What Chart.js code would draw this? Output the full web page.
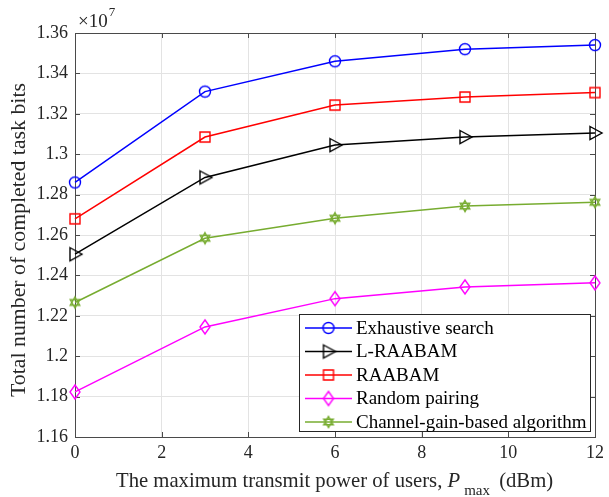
<!DOCTYPE html>
<html>
<head>
<meta charset="utf-8">
<script src="https://cdn.jsdelivr.net/npm/chart.js@4/dist/chart.umd.min.js"></script>
<style>
  html, body { margin: 0; padding: 0; background: #fff; }
  canvas { display: block; }
</style>
</head>
<body>
<canvas id="bitsChart" width="609" height="497"></canvas>
<script>
// transmit power (dBm) and completed task bits (x 10^7)
const powerLevels = [0, 3, 6, 9, 12];
const exhaustiveSearch = [1.286, 1.331, 1.346, 1.352, 1.354];
const lRaabam = [1.2505, 1.2885, 1.3045, 1.3085, 1.3105];
const raabam = [1.268, 1.3085, 1.3243, 1.3283, 1.3305];
const randomPairing = [1.1823, 1.2145, 1.2285, 1.2343, 1.2363];
const channelGain = [1.2266, 1.2584, 1.2683, 1.2743, 1.2762];

const seriesNames = ['Exhaustive search', 'L-RAABAM', 'RAABAM', 'Random pairing', 'Channel-gain-based algorithm'];
const seriesColors = ['#0000ff', '#000000', '#ff0000', '#ff00ff', '#77ac30'];
const yTicks = [1.16, 1.18, 1.2, 1.22, 1.24, 1.26, 1.28, 1.3, 1.32, 1.34, 1.36];

const FONT = '"Liberation Serif", "Times New Roman", serif';
const AXIS_COLOR = '#4a4a4a';

// open markers drawn onto small canvases so the legend can reuse them
function makeMarker(kind, color) {
  const c = document.createElement('canvas');
  c.width = 18; c.height = 18;
  const g = c.getContext('2d');
  const m = 9;
  g.strokeStyle = color;
  g.lineWidth = 1.4;
  g.beginPath();
  if (kind === 'circle') {
    g.arc(m, m, 5.5, 0, Math.PI * 2);
  } else if (kind === 'square') {
    g.rect(m - 5, m - 5, 10, 10);
  } else if (kind === 'triangle') {
    g.moveTo(m - 5, m - 6.5);
    g.lineTo(m + 7, m);
    g.lineTo(m - 5, m + 6.5);
    g.closePath();
  } else if (kind === 'diamond') {
    g.moveTo(m, m - 7);
    g.lineTo(m + 5, m);
    g.lineTo(m, m + 7);
    g.lineTo(m - 5, m);
    g.closePath();
  } else if (kind === 'hexagram') {
    const r = 5.5;
    for (let t = 0; t < 2; t++) {
      for (let k = 0; k < 3; k++) {
        const a = -Math.PI / 2 + t * Math.PI + k * 2 * Math.PI / 3;
        const px = m + r * Math.cos(a), py = m + r * Math.sin(a);
        if (k === 0) g.moveTo(px, py); else g.lineTo(px, py);
      }
      g.closePath();
    }
  }
  g.stroke();
  return c;
}

const markers = [
  makeMarker('circle', seriesColors[0]),
  makeMarker('triangle', seriesColors[1]),
  makeMarker('square', seriesColors[2]),
  makeMarker('diamond', seriesColors[3]),
  makeMarker('hexagram', seriesColors[4])
];

const seriesValues = [exhaustiveSearch, lRaabam, raabam, randomPairing, channelGain];

const datasets = seriesValues.map((vals, i) => ({
  label: seriesNames[i],
  data: powerLevels.map((p, j) => ({ x: p, y: vals[j] })),
  borderColor: seriesColors[i],
  borderWidth: 1.5,
  pointStyle: markers[i],
  pointRadius: 6,
  fill: false,
  clip: false,
  tension: 0
}));

// box, inward ticks, exponent label, legend and axis titles
const decorations = {
  id: 'decorations',
  beforeDatasetsDraw(chart) {
    const ctx = chart.ctx;
    const a = chart.chartArea;
    const xs = chart.scales.x, ys = chart.scales.y;
    ctx.save();
    ctx.strokeStyle = AXIS_COLOR;
    ctx.lineWidth = 1;
    for (let v = 0; v <= 12; v += 2) {
      const px = Math.round(xs.getPixelForValue(v)) + 0.5;
      ctx.beginPath();
      ctx.moveTo(px, a.bottom); ctx.lineTo(px, a.bottom - 5);
      ctx.moveTo(px, a.top); ctx.lineTo(px, a.top + 5);
      ctx.stroke();
    }
    yTicks.forEach(v => {
      const py = Math.round(ys.getPixelForValue(v)) + 0.5;
      ctx.beginPath();
      ctx.moveTo(a.left, py); ctx.lineTo(a.left + 5, py);
      ctx.moveTo(a.right, py); ctx.lineTo(a.right - 5, py);
      ctx.stroke();
    });
    ctx.strokeRect(Math.round(a.left) + 0.5, Math.round(a.top) + 0.5,
      Math.round(a.right - a.left), Math.round(a.bottom - a.top));
    ctx.restore();
  },
  afterDraw(chart) {
    const ctx = chart.ctx;
    const a = chart.chartArea;
    ctx.save();

    // exponent
    ctx.fillStyle = '#262626';
    ctx.textBaseline = 'alphabetic';
    ctx.textAlign = 'left';
    ctx.font = '19px ' + FONT;
    ctx.fillText('\u00d710', a.left + 3, a.top - 6);
    const w = ctx.measureText('\u00d710').width;
    ctx.font = '13px ' + FONT;
    ctx.fillText('7', a.left + 4 + w, a.top - 17);

    // legend
    const lx = 299, ly = 314, lw = 291, lh = 117;
    ctx.fillStyle = '#fff';
    ctx.fillRect(lx, ly, lw, lh);
    ctx.strokeStyle = '#262626';
    ctx.lineWidth = 1;
    ctx.strokeRect(lx + 0.5, ly + 0.5, lw, lh);
    ctx.font = '19px ' + FONT;
    ctx.textBaseline = 'middle';
    seriesNames.forEach((name, i) => {
      const yy = ly + 14 + i * 23.5;
      ctx.strokeStyle = seriesColors[i];
      ctx.lineWidth = 1.5;
      ctx.beginPath();
      ctx.moveTo(305, yy); ctx.lineTo(352, yy);
      ctx.stroke();
      ctx.drawImage(markers[i], 328.5 - markers[i].width / 2, yy - markers[i].height / 2);
      ctx.fillStyle = '#000';
      ctx.fillText(name, 356, yy + 1);
    });

    // y title
    ctx.fillStyle = '#262626';
    ctx.font = '21.8px ' + FONT;
    ctx.textAlign = 'center';
    ctx.textBaseline = 'middle';
    ctx.translate(19, 240);
    ctx.rotate(-Math.PI / 2);
    ctx.fillText('Total number of completed task bits', 0, 0);
    ctx.setTransform(1, 0, 0, 1, 0, 0);

    // x title with italic P and subscript
    ctx.textAlign = 'left';
    ctx.textBaseline = 'alphabetic';
    let x = 116;
    const base = 487;
    const parts = [
      ['20.7px ' + FONT, 'The maximum transmit power of users, ', 0, 0],
      ['italic 20.7px ' + FONT, 'P', 0, 4],
      ['15px ' + FONT, 'max', 8, 4],
      ['20.7px ' + FONT, ' (dBm)', 0, 0]
    ];
    parts.forEach(([f, t, dy, gap]) => {
      ctx.font = f;
      ctx.fillText(t, x, base + dy);
      x += ctx.measureText(t).width + gap;
    });
    ctx.restore();
  }
};

new Chart(document.getElementById('bitsChart'), {
  type: 'line',
  data: { datasets: datasets },
  options: {
    responsive: false,
    animation: false,
    layout: { padding: { top: 33, right: 11, left: 0, bottom: 0 } },
    plugins: {
      legend: { display: false },
      tooltip: { enabled: false }
    },
    scales: {
      x: {
        type: 'linear',
        min: 0,
        max: 12,
        afterFit: s => { s.height = 60; },
        ticks: {
          stepSize: 2,
          color: '#262626',
          font: { family: FONT, size: 18 },
          padding: 5
        },
        grid: { color: '#e3e3e3', drawTicks: false },
        border: { display: false }
      },
      y: {
        min: 1.16,
        max: 1.36,
        afterFit: s => { s.width = 75; },
        afterBuildTicks: s => { s.ticks = yTicks.map(v => ({ value: v })); },
        ticks: {
          color: '#262626',
          font: { family: FONT, size: 18 },
          padding: 7,
          callback: v => String(Number(v.toFixed(2)))
        },
        grid: { color: '#e3e3e3', drawTicks: false },
        border: { display: false }
      }
    }
  },
  plugins: [decorations]
});
</script>
</body>
</html>
